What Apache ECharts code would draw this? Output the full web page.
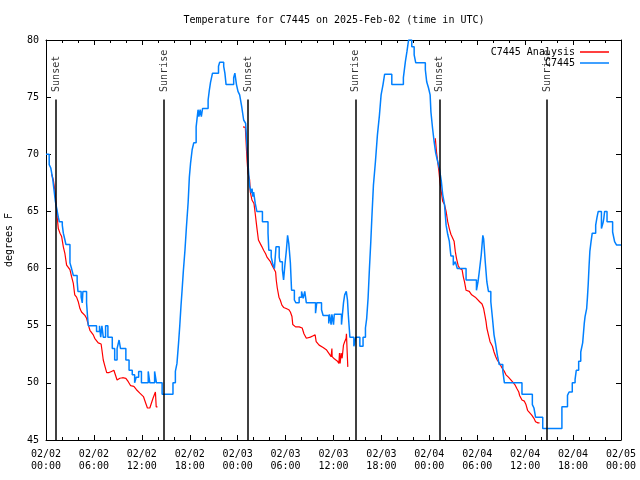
<!DOCTYPE html>
<html><head><meta charset="utf-8">
<script src="https://cdn.jsdelivr.net/npm/echarts@6/dist/echarts.min.js"></script>
<style>html,body{margin:0;padding:0;background:#fff}#c{width:640px;height:480px}</style>
</head><body><div id="c"></div>
<script>
const titleText = 'Temperature for C7445 on 2025-Feb-02 (time in UTC)';
const yAxisName = 'degrees F';
const xTickLabels = ['02/02\n00:00','02/02\n06:00','02/02\n12:00','02/02\n18:00','02/03\n00:00','02/03\n06:00','02/03\n12:00','02/03\n18:00','02/04\n00:00','02/04\n06:00','02/04\n12:00','02/04\n18:00','02/05\n00:00'];
const sunTimes = [1.28, 14.78, 25.29, 38.77, 49.28, 62.74];
const sunNames = ['Sunset','Sunrise','Sunset','Sunrise','Sunset','Sunrise'];
const sunLineTop = 74.8;

// observations (hours since 02/02 00:00 UTC, deg F)
const obsC7445 = [
[0,70.0],[0.4,69.1],[0.6,68.8],[0.83,67.9],[1.0,66.9],[1.17,65.9],[1.33,65.3],[1.54,64.5],[1.67,64.1],[2.04,63.8],[2.17,63.1],[2.37,62.5],[2.5,62.1],[3.0,60.5],[3.2,60.0],[3.42,59.4],[3.9,58.9],[4.0,58.0],[4.4,57.5],[4.54,57.0],[4.62,58.0],[5.08,57.0],[5.2,55.8],[5.3,55.0],[6.33,54.5],[6.7,55.0],[6.85,54.0],[7.0,55.0],[7.17,54.0],[7.46,55.0],[7.75,54.0],[8.3,53.0],[8.6,52.0],[8.9,53.0],[9.15,53.75],[9.33,53.0],[10.0,52.0],[10.4,51.1],[10.8,50.7],[11.1,50.0],[11.3,50.5],[11.6,51.0],[11.95,50.0],[12.8,51.0],[13.0,50.0],[13.6,51.0],[13.83,50.0],[14.54,49.0],[15.9,50.0],[16.2,51.0],[16.4,51.7],[16.6,53.5],[16.75,55.0],[16.9,56.7],[17.04,58.1],[17.2,59.8],[17.4,61.6],[17.58,63.6],[17.8,65.8],[17.95,68.0],[18.1,69.2],[18.3,70.4],[18.5,71.0],[18.8,72.4],[19.04,73.9],[19.15,73.3],[19.3,73.9],[19.45,73.3],[19.6,74.0],[20.3,74.75],[20.45,75.6],[20.6,76.3],[20.85,77.1],[21.6,77.7],[21.75,78.05],[22.25,77.7],[22.4,77.1],[22.55,76.1],[23.5,76.7],[23.65,77.1],[23.85,76.1],[24.04,75.5],[24.25,75.2],[24.5,74.2],[24.75,73.0],[25.0,72.7],[25.17,70.7],[25.25,69.8],[25.35,68.6],[25.5,67.2],[25.7,66.6],[25.8,67.0],[25.9,66.3],[26.0,66.7],[26.2,65.7],[26.4,65.0],[27.1,64.1],[27.8,63.1],[27.9,61.6],[28.2,61.0],[28.4,60.4],[28.6,60.0],[28.8,61.9],[29.2,61.0],[29.3,60.6],[29.6,59.9],[29.75,59.0],[29.9,60.2],[30.1,61.6],[30.25,62.9],[30.4,62.2],[30.6,60.5],[30.75,58.1],[31.1,57.25],[31.3,57.0],[31.7,57.5],[32.0,58.0],[32.2,57.4],[32.4,58.0],[32.6,57.0],[33.75,56.1],[33.9,57.0],[34.5,56.4],[34.7,55.9],[35.4,55.2],[35.5,56.0],[35.7,55.1],[35.8,56.0],[36.0,55.1],[36.1,56.0],[37.0,55.1],[37.25,57.0],[37.4,57.7],[37.6,58.0],[37.75,57.25],[37.85,56.0],[37.95,55.0],[38.05,54.0],[38.55,53.2],[38.8,54.0],[39.3,53.2],[39.7,54.0],[40.0,54.8],[40.15,55.6],[40.33,57.4],[40.5,60.0],[40.67,62.35],[40.8,64.4],[41.0,67.3],[41.25,69.35],[41.5,71.7],[41.75,73.4],[41.96,75.2],[42.2,76.1],[42.4,77.0],[43.3,76.1],[44.75,76.7],[45.0,78.1],[45.2,79.0],[45.4,80.0],[45.8,79.4],[46.1,78.7],[46.3,78.0],[47.5,77.4],[47.67,76.35],[47.9,75.8],[48.1,75.2],[48.2,73.7],[48.4,72.3],[48.6,71.1],[48.8,70.1],[49.0,69.5],[49.25,68.8],[49.5,67.65],[49.67,66.5],[49.9,65.6],[50.1,63.8],[50.3,63.0],[50.5,62.4],[50.7,61.1],[51.0,60.3],[51.25,60.6],[51.5,60.0],[52.6,59.0],[53.9,58.1],[54.1,58.85],[54.25,59.7],[54.5,61.2],[54.7,62.9],[54.8,62.6],[55.0,60.6],[55.2,58.85],[55.4,58.0],[55.7,57.1],[55.9,55.7],[56.1,54.2],[56.3,53.4],[56.5,52.5],[56.75,51.6],[57.2,51.05],[57.4,50.0],[59.6,49.0],[60.9,48.1],[61.1,47.8],[61.3,47.0],[62.2,46.0],[64.6,47.9],[65.3,48.9],[65.5,49.2],[65.9,50.0],[66.25,50.3],[66.4,51.1],[66.7,51.9],[66.96,52.7],[67.2,53.5],[67.4,55.2],[67.5,55.8],[67.7,56.5],[67.8,57.5],[67.9,58.7],[68.0,60.2],[68.1,61.5],[68.25,62.35],[68.4,63.1],[68.83,63.8],[69.0,64.5],[69.15,65.0],[69.55,63.5],[69.75,64.0],[69.85,64.4],[69.95,65.0],[70.25,64.1],[70.95,63.2],[71.2,62.35],[71.45,62.06],[72,62.06]
];

// analysis, one array per night
const analysisNight1 = [
[0.7,68.25],[0.92,67.75],[1.1,66.9],[1.2,66.15],[1.4,64.5],[1.54,63.5],[1.75,63.1],[1.96,62.8],[2.17,61.9],[2.37,61.3],[2.58,60.3],[2.8,60.2],[3.0,59.9],[3.2,59.3],[3.42,58.7],[3.6,57.7],[3.83,57.5],[4.04,57.1],[4.25,56.5],[4.45,56.2],[4.58,56.1],[4.87,55.9],[5.08,55.65],[5.29,55.1],[5.5,54.6],[5.7,54.5],[5.92,54.2],[6.1,53.9],[6.33,53.75],[6.54,53.5],[6.9,53.4],[7.0,52.9],[7.17,52.0],[7.4,51.4],[7.6,50.9],[7.9,50.9],[8.2,51.0],[8.5,51.1],[8.75,51.2],[8.9,50.25],[9.25,50.4],[9.6,50.45],[10.0,50.4],[10.3,50.1],[10.6,49.75],[11.0,49.7],[11.33,49.4],[11.75,49.1],[12.2,48.8],[12.5,48.2],[12.7,47.8],[13.0,47.8],[13.4,48.65],[13.7,49.2],[13.8,47.9],[13.96,47.9]
];
const analysisNight2 = [
[24.67,72.4],[24.96,72.36],[25.08,70.7],[25.17,69.5],[25.3,68.3],[25.5,67.75],[25.58,66.7],[25.79,66.0],[26.04,65.7],[26.2,64.8],[26.4,63.6],[26.6,62.5],[26.8,62.4],[27.04,61.9],[27.25,61.6],[27.5,61.3],[27.67,61.0],[27.9,60.9],[28.1,60.6],[28.3,60.3],[28.6,59.9],[28.75,59.7],[28.83,59.0],[28.96,58.3],[29.17,57.5],[29.33,57.25],[29.54,56.8],[29.75,56.6],[30.08,56.5],[30.4,56.4],[30.6,56.2],[30.8,55.8],[30.9,55.1],[31.25,54.9],[31.7,54.9],[32.08,54.8],[32.3,54.3],[32.6,53.9],[33.1,54.0],[33.4,54.1],[33.7,54.2],[33.83,53.6],[34.2,53.3],[34.7,53.1],[35.1,52.9],[35.4,52.6],[35.7,52.3],[35.8,53.0],[35.83,52.3],[36.1,52.1],[36.5,51.9],[36.67,51.7],[36.75,52.6],[36.83,51.7],[36.96,52.6],[37.08,52.15],[37.25,53.3],[37.4,53.6],[37.58,53.9],[37.62,54.3],[37.7,52.9],[37.79,51.4],[37.85,51.4]
];
const analysisNight3 = [
[48.75,71.4],[48.9,70.2],[49.04,69.4],[49.2,68.5],[49.33,67.6],[49.5,66.7],[49.67,65.9],[49.9,65.6],[50.1,65.0],[50.3,64.1],[50.5,63.5],[50.7,63.0],[50.9,62.9],[51.1,62.4],[51.25,61.5],[51.4,60.9],[51.6,60.3],[51.8,60.0],[52.1,59.9],[52.25,59.3],[52.4,58.86],[52.6,58.1],[53.0,58.0],[53.3,57.7],[53.75,57.5],[54.0,57.4],[54.3,57.1],[54.6,56.9],[54.8,56.5],[54.96,55.9],[55.1,55.36],[55.2,54.8],[55.4,54.2],[55.6,53.6],[55.9,53.2],[56.1,52.7],[56.3,52.3],[56.5,52.0],[56.8,51.7],[57.1,51.3],[57.4,51.0],[57.6,50.7],[57.9,50.5],[58.4,50.1],[58.75,49.8],[58.96,49.5],[59.2,49.2],[59.3,48.9],[59.6,48.5],[59.9,48.4],[60.1,48.1],[60.3,47.6],[60.5,47.5],[60.8,47.2],[61.1,46.9],[61.3,46.6],[61.6,46.5],[61.8,46.5]
];

const FONT = 'DejaVu Sans Mono';
const txt = {fontFamily: FONT, fontSize: 10, color: '#000'};
const black = {color: '#000', width: 1};

function xAxisDef(pos, showLabels) {
  return {
    type: 'value', min: 0, max: 72, interval: 6, position: pos,
    axisLine: {show: true, onZero: false, lineStyle: black},
    axisTick: {show: true, inside: true, length: 5, lineStyle: black},
    minorTick: {show: true, splitNumber: 3, length: 3, lineStyle: black},
    splitLine: {show: false},
    axisLabel: {show: showLabels, ...txt, margin: 8, lineHeight: 12,
      formatter: v => xTickLabels[Math.round(v / 6)]}
  };
}
function yAxisDef(pos, showLabels) {
  return {
    type: 'value', min: 45, max: 80, interval: 5, position: pos,
    axisLine: {show: true, onZero: false, lineStyle: black},
    axisTick: {show: true, inside: true, length: 5, lineStyle: black},
    splitLine: {show: false},
    axisLabel: {show: showLabels, ...txt, margin: 7}
  };
}

const redSeries = [analysisNight1, analysisNight2, analysisNight3].map(d => ({
  type: 'line', name: 'C7445 Analysis', data: d, showSymbol: false, symbol: 'none',
  lineStyle: {color: '#ff0000', width: 1.2}, itemStyle: {color: '#ff0000'}, z: 2
}));

const yLeft = yAxisDef('left', true);
yLeft.name = yAxisName;
yLeft.nameLocation = 'middle';
yLeft.nameGap = 32;
yLeft.nameRotate = 90;
yLeft.nameTextStyle = {...txt};

const option = {
  animation: false,
  backgroundColor: '#fff',
  title: {text: titleText, left: 329, top: 10, textAlign: 'center',
    textStyle: {...txt, fontWeight: 'normal'}},
  legend: {data: ['C7445 Analysis', 'C7445'], orient: 'vertical', align: 'right',
    right: 26, top: 42, itemWidth: 29, itemHeight: 1.5, itemGap: 1, icon: 'rect',
    textStyle: {...txt, lineHeight: 10}},
  grid: {left: 46, right: 19, top: 40, bottom: 40, containLabel: false, outerBoundsMode: 'none'},
  xAxis: [xAxisDef('bottom', true), xAxisDef('top', false)],
  yAxis: [yLeft, yAxisDef('right', false)],
  series: [
    ...redSeries,
    {type: 'line', name: 'C7445', data: obsC7445, step: 'end', showSymbol: false, symbol: 'none',
      lineStyle: {color: '#0080ff', width: 1.5}, itemStyle: {color: '#0080ff'}, z: 3},
    {type: 'scatter', name: 'sun', data: sunTimes.map((t, i) => ({value: [t, sunLineTop], name: sunNames[i]})),
      symbolSize: 1, itemStyle: {color: 'rgba(0,0,0,0)'}, silent: true, z: 4,
      label: {show: true, formatter: p => p.name, position: 'top', distance: 7, rotate: 90,
        align: 'left', verticalAlign: 'middle', ...txt},
      markLine: {silent: true, symbol: ['none', 'none'], animation: false,
        lineStyle: {color: '#000', width: 1.5, type: 'solid'}, label: {show: false},
        data: sunTimes.map(t => [{coord: [t, sunLineTop]}, {coord: [t, 45]}])}
    }
  ]
};
const chart = echarts.init(document.getElementById('c'));
chart.setOption(option);
</script></body></html>
